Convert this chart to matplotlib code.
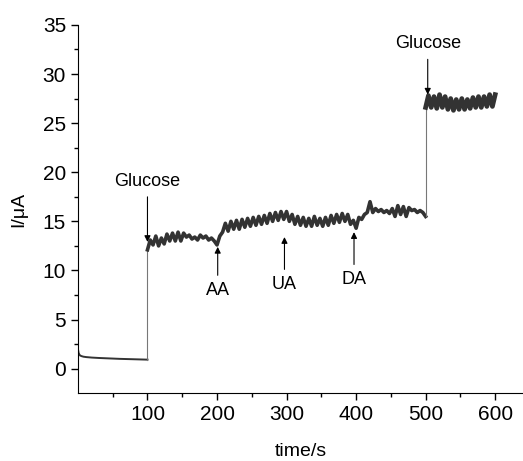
import matplotlib.pyplot as plt
import numpy as np

plt.rcParams['font.family'] = ['Liberation Sans', 'DejaVu Sans']

# ----------------------------- datos -----------------------------
# linea base antes de la primera adicion de glucosa
t_base = [0, 1, 2, 3, 5, 8, 12, 20, 30, 40, 50, 60, 70, 80, 90, 100]
i_base = [2.0, 1.6, 1.45, 1.35, 1.28, 1.22, 1.18, 1.13, 1.09, 1.06,
          1.03, 1.0, 0.98, 0.96, 0.94, 0.92]

# meseta intermedia (glucosa + interferentes), cada 4 s
t_mid = list(range(100, 501, 4))
i_mid = [12.1, 13.1, 12.6, 13.5, 12.5, 13.3, 12.7, 13.7, 13.0, 13.8,
         13.0, 13.9, 13.0, 13.8, 13.4, 13.6, 13.2, 13.4, 13.1, 13.6,
         13.3, 13.5, 13.1, 13.3, 13.0, 12.6, 13.5, 13.9, 14.8, 14.0,
         15.0, 14.2, 15.1, 14.2, 15.2, 14.4, 15.3, 14.5, 15.4, 14.6,
         15.5, 14.7, 15.6, 14.8, 15.8, 15.0, 15.9, 15.1, 16.0, 15.2,
         16.0, 15.0, 15.7, 14.7, 15.5, 14.6, 15.4, 14.5, 15.3, 14.5,
         15.5, 14.6, 15.3, 14.5, 15.4, 14.6, 15.6, 14.8, 15.7, 14.9,
         15.8, 15.0, 15.7, 14.7, 15.1, 14.3, 15.4, 15.2, 15.7, 15.9,
         17.0, 15.9, 16.3, 16.0, 16.2, 15.9, 16.1, 15.8, 16.3, 15.5,
         16.6, 15.7, 16.5, 15.5, 16.4, 16.1, 16.2, 15.9, 16.1, 15.9,
         15.5]

# meseta final tras la segunda adicion de glucosa
t_top = list(range(500, 601, 4))
i_top = [26.6, 27.8, 26.6, 27.7, 26.5, 27.9, 26.6, 27.7, 26.4, 27.5,
         26.3, 27.4, 26.4, 27.5, 26.4, 27.4, 26.5, 27.6, 26.6, 27.7,
         26.6, 27.7, 26.7, 27.9, 26.7, 27.9]

# anotaciones: (texto, t, I punta flecha, I texto)
labels = ['Glucose', 'AA', 'UA', 'DA', 'Glucose']
lab_t = [100, 201, 297, 397, 503]
lab_tip = [12.9, 12.4, 13.4, 13.9, 27.9]
lab_txt = [18.2, 8.8, 9.4, 9.9, 32.2]

# ----------------------------- grafica -----------------------------
fig = plt.figure(figsize=(5.23, 4.61), dpi=100)
ax = fig.add_axes([0.149, 0.147, 0.851, 0.799])

col = '#333333'
ax.plot(t_base, i_base, color=col, lw=1.4)
ax.plot([t_base[-1], t_mid[0]], [i_base[-1], i_mid[0]], color='#777777', lw=0.8)
ax.plot(t_mid, i_mid, color=col, lw=2.6)
ax.plot([t_mid[-1], t_top[0]], [i_mid[-1], i_top[0]], color='#777777', lw=0.8)
ax.plot(t_top, i_top, color=col, lw=3.4)

for txt, t, tip, ty in zip(labels, lab_t, lab_tip, lab_txt):
    up = ty > tip
    ax.annotate(txt, xy=(t, tip), xytext=(t, ty), ha='center',
                va='bottom' if up else 'top', fontsize=13,
                arrowprops=dict(arrowstyle='-|>', color='black', lw=0.8,
                                mutation_scale=9, shrinkA=3, shrinkB=0))

ax.set_xlim(0, 640)
ax.set_ylim(-2.5, 35)
ax.set_xticks([100, 200, 300, 400, 500, 600])
ax.set_xticks(np.arange(50, 640, 100), minor=True)
ax.set_yticks(np.arange(0, 36, 5))
ax.set_yticks(np.arange(2.5, 35, 5), minor=True)
ax.tick_params(which='major', direction='out', length=5, width=1, labelsize=15)
ax.tick_params(which='minor', direction='out', length=3, width=1)
ax.spines['top'].set_visible(False)
ax.spines['right'].set_visible(False)
ax.set_xlabel('time/s', fontsize=14, labelpad=14)
ax.set_ylabel('I/\u03bcA', fontsize=14, labelpad=11)

plt.savefig('out.png', dpi=100)
